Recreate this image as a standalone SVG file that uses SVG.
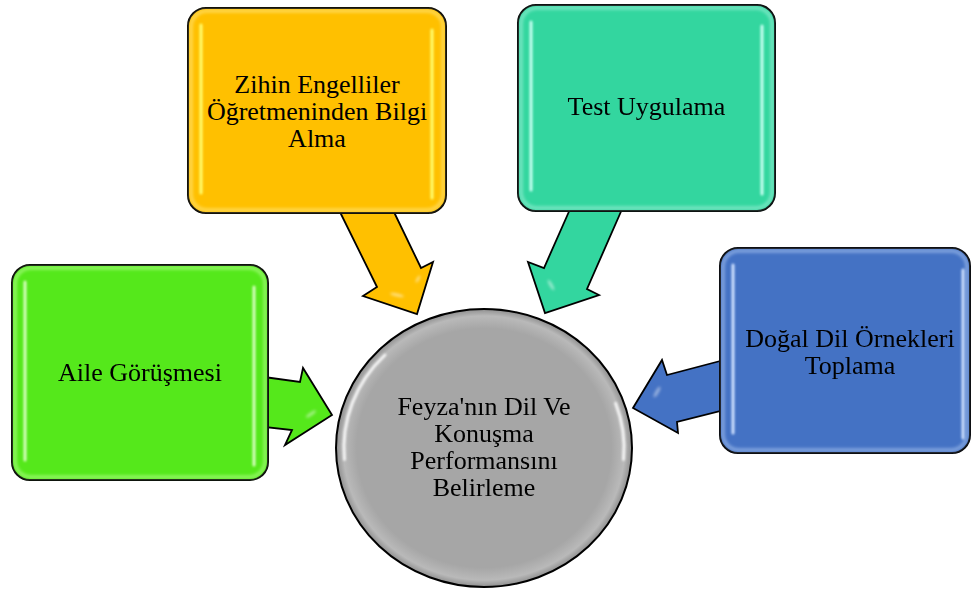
<svg xmlns="http://www.w3.org/2000/svg" width="971" height="589" viewBox="0 0 971 589">
  <style>
    .frame { stroke: #000; stroke-width: 2; }
    .rim { fill: none; stroke-width: 4; opacity: 0.55; }
    .bar { stroke-width: 3; stroke-linecap: round; }
    .arrow { stroke: #000; stroke-width: 1.8; stroke-linejoin: miter; }
    .glint { fill: #fff; opacity: 0.5; }
    .lbl { font-family: "Liberation Serif", "Times New Roman", serif; font-size: 26px; text-anchor: middle; fill: #000; }
  </style>
  <defs>
    <filter id="soft" x="-20%" y="-20%" width="140%" height="140%">
      <feGaussianBlur stdDeviation="1.8"/>
    </filter>
    <filter id="glow" x="-200%" y="-10%" width="500%" height="120%">
      <feGaussianBlur stdDeviation="1"/>
    </filter>
    <filter id="haze" x="-50%" y="-50%" width="200%" height="200%">
      <feGaussianBlur stdDeviation="1.4"/>
    </filter>
    <radialGradient id="discShade" cx="50%" cy="50%" r="50%">
      <stop offset="0.86" stop-color="#a6a6a6"/>
      <stop offset="0.95" stop-color="#b9b9b9"/>
      <stop offset="1" stop-color="#8f8f8f"/>
    </radialGradient>
  </defs>

  <!-- block arrows pointing at the central disc -->
  <g id="connectors">
    <polygon class="arrow" fill="#ffc000" points="339,210 377,287 363,296 417,314 433,262 421,268 393,210"/>
    <polygon class="arrow" fill="#33d69f" points="571,207 544,268 528,262 545,313 599,295 587,289 623,207"/>
    <polygon class="arrow" fill="#55e81b" points="264,377 300,382 303,368 332,415 285,445 292,430 264,427"/>
    <polygon class="arrow" fill="#4472c4" points="724,360 667,375 662,360 633,408 678,433 677,422 724,410"/>
    <g filter="url(#haze)">
      <ellipse class="glint" cx="397" cy="295" rx="7" ry="1.6" transform="rotate(12 397 295)"/>
      <ellipse class="glint" cx="418" cy="279" rx="4" ry="1.3" transform="rotate(-60 418 279)"/>
      <ellipse class="glint" cx="551" cy="285" rx="6" ry="1.6" transform="rotate(60 551 285)"/>
      <ellipse class="glint" cx="311" cy="414" rx="6" ry="1.6" transform="rotate(-35 311 414)"/>
      <ellipse class="glint" cx="657" cy="392" rx="6" ry="1.6" transform="rotate(-60 657 392)"/>
    </g>
  </g>

  <!-- Zihin Engelliler Öğretmeninden Bilgi Alma -->
  <g id="node-ogretmen">
    <rect class="frame" x="188" y="8" width="258" height="205" rx="18" fill="#ffc000"/>
    <rect class="rim" x="191" y="11" width="252" height="199" rx="16" stroke="#ffe680" filter="url(#soft)"/>
    <g filter="url(#glow)">
      <line class="bar" x1="201" y1="25" x2="201" y2="193" stroke="#ffff70"/>
      <line class="bar" x1="432" y1="30" x2="432" y2="198" stroke="#ffff70"/>
    </g>
    <text class="lbl" x="317" y="93">Zihin Engelliler</text>
    <text class="lbl" x="317" y="120">Öğretmeninden Bilgi</text>
    <text class="lbl" x="317" y="147">Alma</text>
  </g>

  <!-- Test Uygulama -->
  <g id="node-test">
    <rect class="frame" x="518" y="5" width="257" height="206" rx="18" fill="#33d69f"/>
    <rect class="rim" x="521" y="8" width="251" height="200" rx="16" stroke="#9ff0d8" filter="url(#soft)"/>
    <g filter="url(#glow)">
      <line class="bar" x1="531" y1="22" x2="531" y2="190" stroke="#c8fff2"/>
      <line class="bar" x1="762" y1="26" x2="762" y2="194" stroke="#c8fff2"/>
    </g>
    <text class="lbl" x="646.5" y="115">Test Uygulama</text>
  </g>

  <!-- Aile Görüşmesi -->
  <g id="node-aile">
    <rect class="frame" x="12" y="265" width="256" height="215" rx="18" fill="#55e81b"/>
    <rect class="rim" x="15" y="268" width="250" height="209" rx="16" stroke="#b5ff90" filter="url(#soft)"/>
    <g filter="url(#glow)">
      <line class="bar" x1="25" y1="282" x2="25" y2="460" stroke="#d8ffc0"/>
      <line class="bar" x1="254" y1="287" x2="254" y2="465" stroke="#d8ffc0"/>
    </g>
    <text class="lbl" x="140" y="381">Aile Görüşmesi</text>
  </g>

  <!-- Doğal Dil Örnekleri Toplama -->
  <g id="node-dogal">
    <rect class="frame" x="720" y="248" width="250" height="205" rx="18" fill="#4472c4"/>
    <rect class="rim" x="723" y="251" width="244" height="199" rx="16" stroke="#a9c4f0" filter="url(#soft)"/>
    <g filter="url(#glow)">
      <line class="bar" x1="733" y1="265" x2="733" y2="433" stroke="#d0e2ff"/>
      <line class="bar" x1="963" y1="270" x2="963" y2="438" stroke="#d0e2ff"/>
    </g>
    <text class="lbl" x="850" y="346.5">Doğal Dil Örnekleri</text>
    <text class="lbl" x="850" y="373.5">Toplama</text>
  </g>

  <!-- Feyza'nın Dil Ve Konuşma Performansını Belirleme -->
  <g id="node-merkez">
    <ellipse class="frame" cx="484" cy="448" rx="148" ry="139" fill="url(#discShade)"/>
    <g filter="url(#glow)" fill="none" stroke="#ffffff" stroke-width="3" stroke-linecap="round" opacity="0.85">
      <path d="M385,355 A140,131 0 0 0 344.5,459.4"/>
      <path d="M615.6,403.2 A140,131 0 0 1 623.5,459.4"/>
    </g>
    <text class="lbl" x="484" y="415">Feyza'nın Dil Ve</text>
    <text class="lbl" x="484" y="442">Konuşma</text>
    <text class="lbl" x="484" y="469">Performansını</text>
    <text class="lbl" x="484" y="496">Belirleme</text>
  </g>
</svg>
